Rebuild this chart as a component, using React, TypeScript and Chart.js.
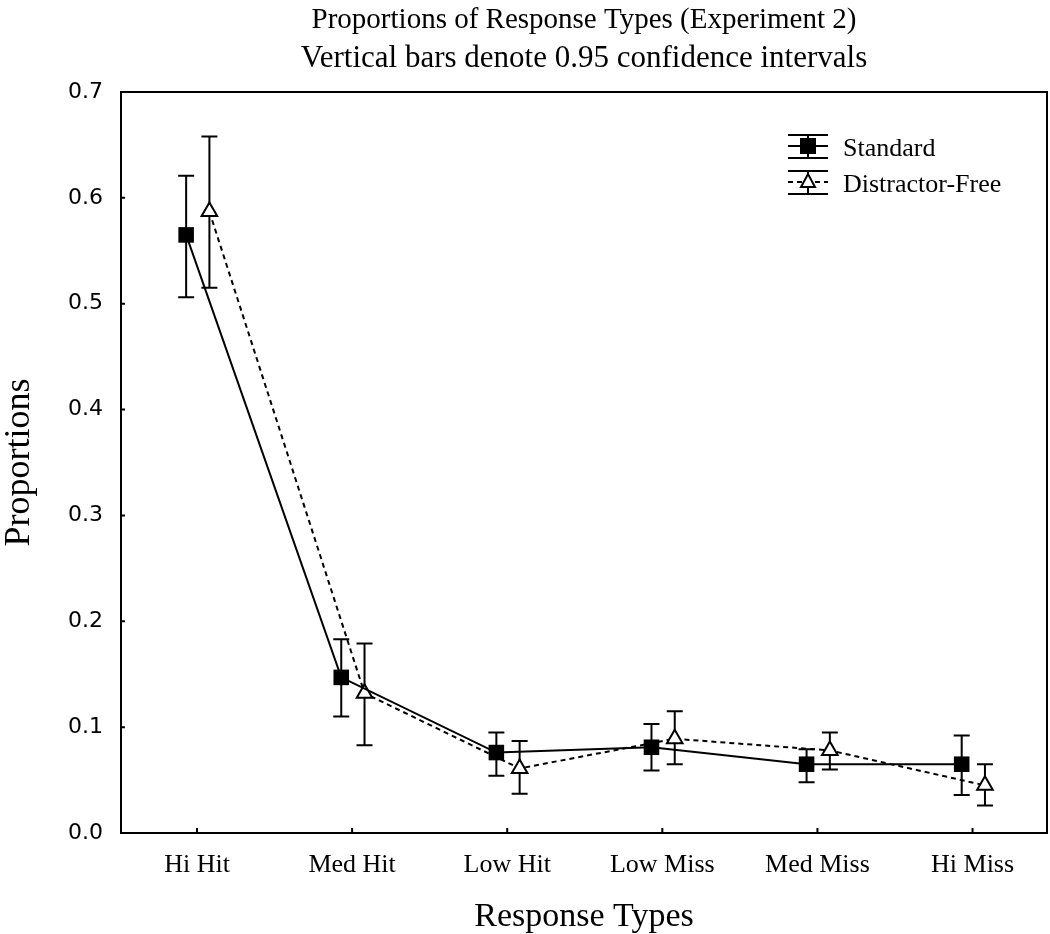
import React, { useEffect, useRef } from 'react';
import { Chart, registerables } from 'chart.js';

Chart.register(...registerables);

// ---- data ----
const categories = ['Hi Hit', 'Med Hit', 'Low Hit', 'Low Miss', 'Med Miss', 'Hi Miss'];

const standardMean = [0.565, 0.147, 0.076, 0.081, 0.065, 0.065];
const standardLow = [0.506, 0.110, 0.054, 0.059, 0.048, 0.036];
const standardHigh = [0.621, 0.183, 0.095, 0.103, 0.079, 0.092];

const freeMean = [0.587, 0.132, 0.061, 0.089, 0.078, 0.045];
const freeLow = [0.515, 0.083, 0.037, 0.065, 0.060, 0.026];
const freeHigh = [0.658, 0.179, 0.087, 0.115, 0.095, 0.065];

const yTickValues = [0, 0.1, 0.2, 0.3, 0.4, 0.5, 0.6, 0.7];

const seriesNames = ['Standard', 'Distractor-Free'];
const titleText = 'Proportions of Response Types (Experiment 2)';
const subtitleText = 'Vertical bars denote 0.95 confidence intervals';
const xTitle = 'Response Types';
const yTitle = 'Proportions';

// ---- layout constants ----
const W = 1050;
const H = 934;
const STD_OFFSET = -0.07;
const FREE_OFFSET = 0.08;
const SERIF = '"Liberation Serif", "Times New Roman", serif';
const SANS = '"DejaVu Sans", sans-serif';

const errorSeries = [
  { offset: STD_OFFSET, low: standardLow, high: standardHigh },
  { offset: FREE_OFFSET, low: freeLow, high: freeHigh },
];

const errorBarPlugin = {
  id: 'errorBars',
  beforeDatasetsDraw(chart: any) {
    const { ctx, scales } = chart;
    const x = scales.x;
    const y = scales.y;
    ctx.save();
    ctx.strokeStyle = '#000';
    ctx.lineWidth = 2;
    errorSeries.forEach((s) => {
      categories.forEach((_, i) => {
        const px = x.getPixelForValue(i + s.offset);
        const top = y.getPixelForValue(s.high[i]);
        const bot = y.getPixelForValue(s.low[i]);
        ctx.beginPath();
        ctx.moveTo(px, top);
        ctx.lineTo(px, bot);
        ctx.moveTo(px - 8, top);
        ctx.lineTo(px + 8, top);
        ctx.moveTo(px - 8, bot);
        ctx.lineTo(px + 8, bot);
        ctx.stroke();
      });
    });
    ctx.restore();
  },
};

const framePlugin = {
  id: 'frame',
  beforeDatasetsDraw(chart: any) {
    const { ctx, chartArea: a, scales } = chart;
    ctx.save();
    ctx.strokeStyle = '#000';
    ctx.lineWidth = 2;
    ctx.strokeRect(a.left, a.top, a.right - a.left, a.bottom - a.top);
    ctx.beginPath();
    yTickValues.forEach((v) => {
      const py = scales.y.getPixelForValue(v);
      ctx.moveTo(a.left, py);
      ctx.lineTo(a.left + 4, py);
    });
    categories.forEach((_, i) => {
      const px = scales.x.getPixelForValue(i);
      ctx.moveTo(px, a.bottom);
      ctx.lineTo(px, a.bottom - 5);
    });
    ctx.stroke();
    ctx.restore();
  },
};

const legendPlugin = {
  id: 'customLegend',
  afterDraw(chart: any) {
    const { ctx } = chart;
    const cx = 808;
    const x0 = 788;
    const x1 = 828;
    const rows = [
      { y: 146, name: seriesNames[0], dashed: false, marker: 'rect' },
      { y: 182, name: seriesNames[1], dashed: true, marker: 'tri' },
    ];
    ctx.save();
    ctx.strokeStyle = '#000';
    ctx.fillStyle = '#000';
    ctx.lineWidth = 2;
    rows.forEach((r) => {
      ctx.setLineDash([]);
      ctx.beginPath();
      ctx.moveTo(x0, r.y - 11);
      ctx.lineTo(x1, r.y - 11);
      ctx.moveTo(x0, r.y + 12);
      ctx.lineTo(x1, r.y + 12);
      ctx.moveTo(cx, r.y - 11);
      ctx.lineTo(cx, r.y + 12);
      ctx.stroke();
      if (r.dashed) ctx.setLineDash([5, 4]);
      ctx.beginPath();
      ctx.moveTo(x0, r.y);
      ctx.lineTo(x1, r.y);
      ctx.stroke();
      ctx.setLineDash([]);
      if (r.marker === 'rect') {
        ctx.fillRect(cx - 8, r.y - 8, 16, 16);
      } else {
        ctx.beginPath();
        ctx.moveTo(cx, r.y - 8);
        ctx.lineTo(cx + 7, r.y + 5);
        ctx.lineTo(cx - 7, r.y + 5);
        ctx.closePath();
        ctx.fillStyle = '#fff';
        ctx.fill();
        ctx.stroke();
        ctx.fillStyle = '#000';
      }
      ctx.font = `26px ${SERIF}`;
      ctx.textBaseline = 'alphabetic';
      ctx.textAlign = 'left';
      ctx.fillText(r.name, 843, r.y + 10);
    });
    ctx.restore();
  },
};

export default function App() {
  const ref = useRef<HTMLCanvasElement | null>(null);

  useEffect(() => {
    if (!ref.current) return;
    Chart.defaults.font.family = SERIF;
    Chart.defaults.color = '#000';
    const chart = new Chart(ref.current, {
      type: 'line',
      data: {
        datasets: [
          {
            label: seriesNames[0],
            data: categories.map((_, i) => ({ x: i + STD_OFFSET, y: standardMean[i] })),
            borderColor: '#000',
            backgroundColor: '#000',
            borderWidth: 2,
            pointStyle: 'rect',
            pointRadius: 11,
            pointBorderWidth: 0,
            tension: 0,
          },
          {
            label: seriesNames[1],
            data: categories.map((_, i) => ({ x: i + FREE_OFFSET, y: freeMean[i] })),
            borderColor: '#000',
            backgroundColor: '#fff',
            pointBackgroundColor: '#fff',
            pointBorderColor: '#000',
            borderWidth: 2,
            borderDash: [5, 4],
            pointStyle: 'triangle',
            pointRadius: 9,
            pointBorderWidth: 2,
            tension: 0,
          },
        ],
      },
      options: {
        responsive: false,
        animation: false,
        devicePixelRatio: 1,
        layout: { autoPadding: false, padding: { left: 0, right: 3, top: 0, bottom: 0 } },
        plugins: {
          legend: { display: false },
          tooltip: { enabled: false },
          title: {
            display: true,
            fullSize: false,
            text: titleText,
            color: '#000',
            font: { family: SERIF, size: 29, weight: 'normal', lineHeight: 1.2 },
            padding: { top: 3, bottom: 2 },
          },
          subtitle: {
            display: true,
            fullSize: false,
            text: subtitleText,
            color: '#000',
            font: { family: SERIF, size: 31, weight: 'normal', lineHeight: 1.2 },
            padding: { top: 0, bottom: 15 },
          },
        },
        scales: {
          x: {
            type: 'linear',
            min: -0.49,
            max: 5.48,
            grid: { display: false, drawTicks: false },
            border: { display: false },
            afterBuildTicks: (scale: any) => {
              scale.ticks = categories.map((_, i) => ({ value: i }));
            },
            afterFit: (scale: any) => {
              scale.height = 101;
              scale.paddingLeft = 0;
              scale.paddingRight = 0;
            },
            ticks: {
              autoSkip: false,
              maxRotation: 0,
              padding: 17,
              color: '#000',
              font: { family: SERIF, size: 26 },
              callback: (v: any) => categories[Math.round(Number(v))] ?? '',
            },
            title: {
              display: true,
              text: xTitle,
              color: '#000',
              font: { family: SERIF, size: 34, lineHeight: 1 },
              padding: { top: 0, bottom: 0 },
            },
          },
          y: {
            type: 'linear',
            min: 0,
            max: 0.7,
            grid: { display: false, drawTicks: false },
            border: { display: false },
            afterBuildTicks: (scale: any) => {
              scale.ticks = yTickValues.map((v) => ({ value: v }));
            },
            afterFit: (scale: any) => {
              scale.width = 121;
              scale.paddingTop = 0;
              scale.paddingBottom = 0;
            },
            ticks: {
              padding: 18,
              color: '#000',
              font: { family: SANS, size: 22 },
              callback: (v: any) => Number(v).toFixed(1),
            },
            title: {
              display: true,
              text: yTitle,
              color: '#000',
              font: { family: SERIF, size: 36, lineHeight: 1.1 },
              padding: { top: 0, bottom: 0 },
            },
          },
        },
      },
      plugins: [framePlugin, errorBarPlugin, legendPlugin],
    } as any);
    return () => chart.destroy();
  }, []);

  return (
    <div style={{ position: 'absolute', left: 0, top: 0, width: W, height: H, background: '#fff' }}>
      <canvas ref={ref} width={W} height={H} style={{ display: 'block', width: W, height: H }} />
    </div>
  );
}
